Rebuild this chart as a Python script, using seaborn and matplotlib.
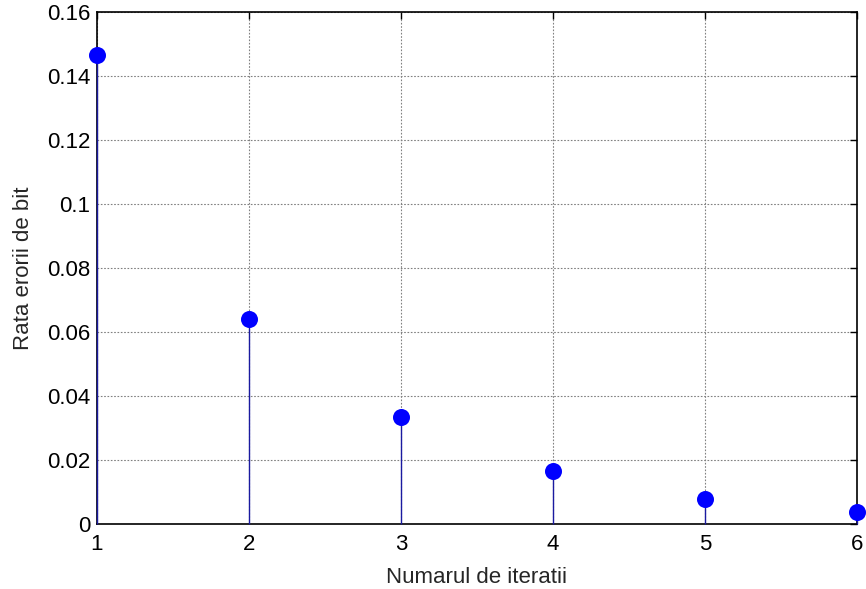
import matplotlib
matplotlib.use("Agg")
import matplotlib.pyplot as plt
import seaborn as sns
import numpy as np
import pandas as pd

iterations = [1, 2, 3, 4, 5, 6]
ber = [0.1466, 0.0642, 0.0334, 0.0167, 0.0079, 0.0037]
yticks = [0, 0.02, 0.04, 0.06, 0.08, 0.1, 0.12, 0.14, 0.16]
ytick_labels = ["0", "0.02", "0.04", "0.06", "0.08", "0.1", "0.12", "0.14", "0.16"]

sns.set_style("white")
plt.rcParams['font.family'] = ['Liberation Sans', 'DejaVu Sans']

df = pd.DataFrame({"it": iterations, "ber": ber})

fig = plt.figure(figsize=(8.66, 5.89), dpi=100)
ax = fig.add_axes([0.112, 0.1104, 0.8776, 0.8692])

ax.vlines(df["it"], 0, df["ber"], color="#1a1aa0", linewidth=1.0, zorder=3, clip_on=False)
sns.scatterplot(data=df, x="it", y="ber", ax=ax, color="#0000ff", s=150,
                edgecolor="#0000ff", linewidth=0, zorder=4, clip_on=False)

ax.set_xlim(1, 6)
ax.set_ylim(0, 0.16)
ax.set_xticks(iterations)
ax.set_xticklabels([str(i) for i in iterations])
ax.set_yticks(yticks)
ax.set_yticklabels(ytick_labels)

ax.grid(True, color="#808080", linestyle=(0, (1.5, 1.5)), linewidth=0.8)
ax.set_axisbelow(True)

for s in ax.spines.values():
    s.set_visible(True)
    s.set_color("black")
    s.set_linewidth(1.2)

ax.tick_params(axis="both", which="major", direction="in", length=5, width=1,
               top=True, right=True, labelsize=16, colors="black")
ax.tick_params(axis="x", pad=7)
ax.tick_params(axis="y", pad=5)

ax.set_xlabel("Numarul de iteratii", fontsize=16, labelpad=9)
ax.set_ylabel("Rata erorii de bit", fontsize=16, labelpad=9)

fig.savefig("out.png", dpi=100)
